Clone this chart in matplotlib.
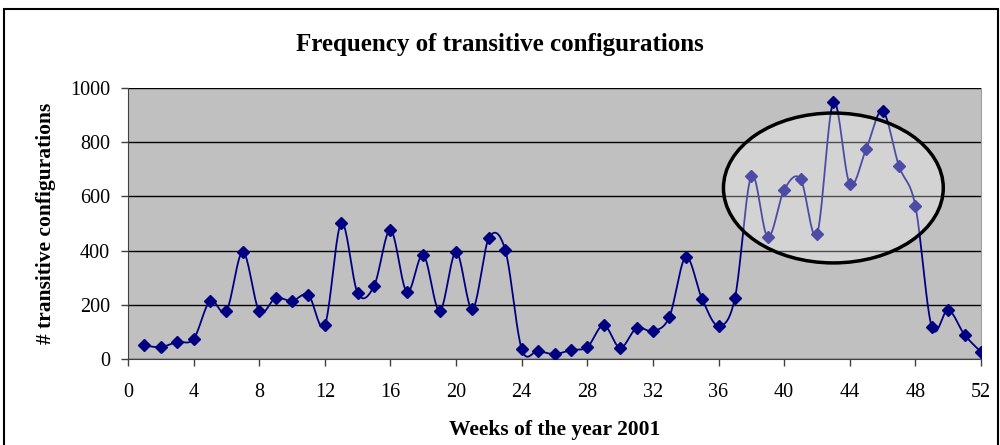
import numpy as np
import matplotlib
matplotlib.use("Agg")
import matplotlib.pyplot as plt
from matplotlib.patches import Ellipse, Rectangle

weeks = list(range(1, 53))
counts = [50, 44, 63, 74, 214, 177, 395, 177, 225, 214,
          236, 125, 502, 243, 269, 476, 247, 384, 177, 395,
          184, 446, 402, 37, 30, 18, 33, 44, 125, 41,
          114, 103, 155, 376, 221, 122, 225, 675, 450, 624,
          664, 461, 948, 646, 775, 915, 712, 565, 118, 181,
          89, 26]
xticks = list(range(0, 53, 4))
yticks = list(range(0, 1001, 200))

title = "Frequency of transitive configurations"
xlabel = "Weeks of the year 2001"
ylabel = "# transitive configurations"

navy = "#000080"
serif = ["Liberation Serif", "DejaVu Serif"]

fig = plt.figure(figsize=(10, 4.45), dpi=100)
ax = fig.add_axes([0.128, 0.1933, 0.853, 0.609])
ax.set_facecolor("#C0C0C0")


def smooth(xs, ys, sx, sy, n=20):
    # Bezier smoothing in display-scaled space (like Excel's smoothed line)
    P = np.column_stack([np.asarray(xs, float) * sx, np.asarray(ys, float) * sy])
    P = np.vstack([P[0], P, P[-1]])
    out = []
    t = np.linspace(0, 1, n, endpoint=False)[:, None]
    k = 1 / 6.0
    for i in range(1, len(P) - 2):
        p0, p1, p2, p3 = P[i - 1], P[i], P[i + 1], P[i + 2]
        c1 = p1 + (p2 - p0) * k
        c2 = p2 - (p3 - p1) * k
        seg = ((1 - t) ** 3) * p1 + 3 * ((1 - t) ** 2) * t * c1 + 3 * (1 - t) * t ** 2 * c2 + t ** 3 * p2
        out.append(seg)
    out.append(P[-2][None, :])
    out = np.vstack(out)
    return out[:, 0] / sx, out[:, 1] / sy


sx = 853 / 52.0
sy = 271 / 1000.0
lx, ly = smooth(weeks, counts, sx, sy)
ly = np.maximum(ly, 5)
ax.plot(lx, ly, color=navy, lw=1.3, zorder=3)
ax.plot(weeks, counts, linestyle="none", marker="D", ms=6.5, color=navy, zorder=4)

ax.set_xlim(0, 52)
ax.set_ylim(0, 1000)
ax.set_xticks(xticks)
ax.set_yticks(yticks)
ax.yaxis.grid(True, color="black", lw=1.0, zorder=1)
ax.set_axisbelow(True)
for lab in ax.get_xticklabels() + ax.get_yticklabels():
    lab.set_family(serif)
    lab.set_fontsize(14.5)
ax.tick_params(axis="both", direction="out", length=5, width=1, color="#404040")
ax.tick_params(axis="x", pad=12)
ax.tick_params(axis="y", pad=8)
ax.spines["top"].set_visible(False)
ax.spines["right"].set_color("#A0A0A0")
ax.spines["left"].set_color("#404040")
ax.spines["bottom"].set_color("#404040")

ax.set_xlabel(xlabel, family=serif, fontweight="bold", fontsize=15.5, labelpad=13)
ax.set_ylabel(ylabel, family=serif, fontweight="bold", fontsize=15.5, labelpad=10)
fig.text(0.5, 0.90, title, family=serif, fontweight="bold", fontsize=18,
         ha="center", va="center")

ell = Ellipse((43.0, 631), width=13.4, height=553, facecolor=(1, 1, 1, 0.3),
              edgecolor="black", lw=2.5, zorder=5)
ax.add_patch(ell)

fig.patches.append(Rectangle((0.004, -0.05), 0.994, 1.03, transform=fig.transFigure,
                             fill=False, edgecolor="black", lw=1.5))

fig.savefig("out.png", dpi=100)
